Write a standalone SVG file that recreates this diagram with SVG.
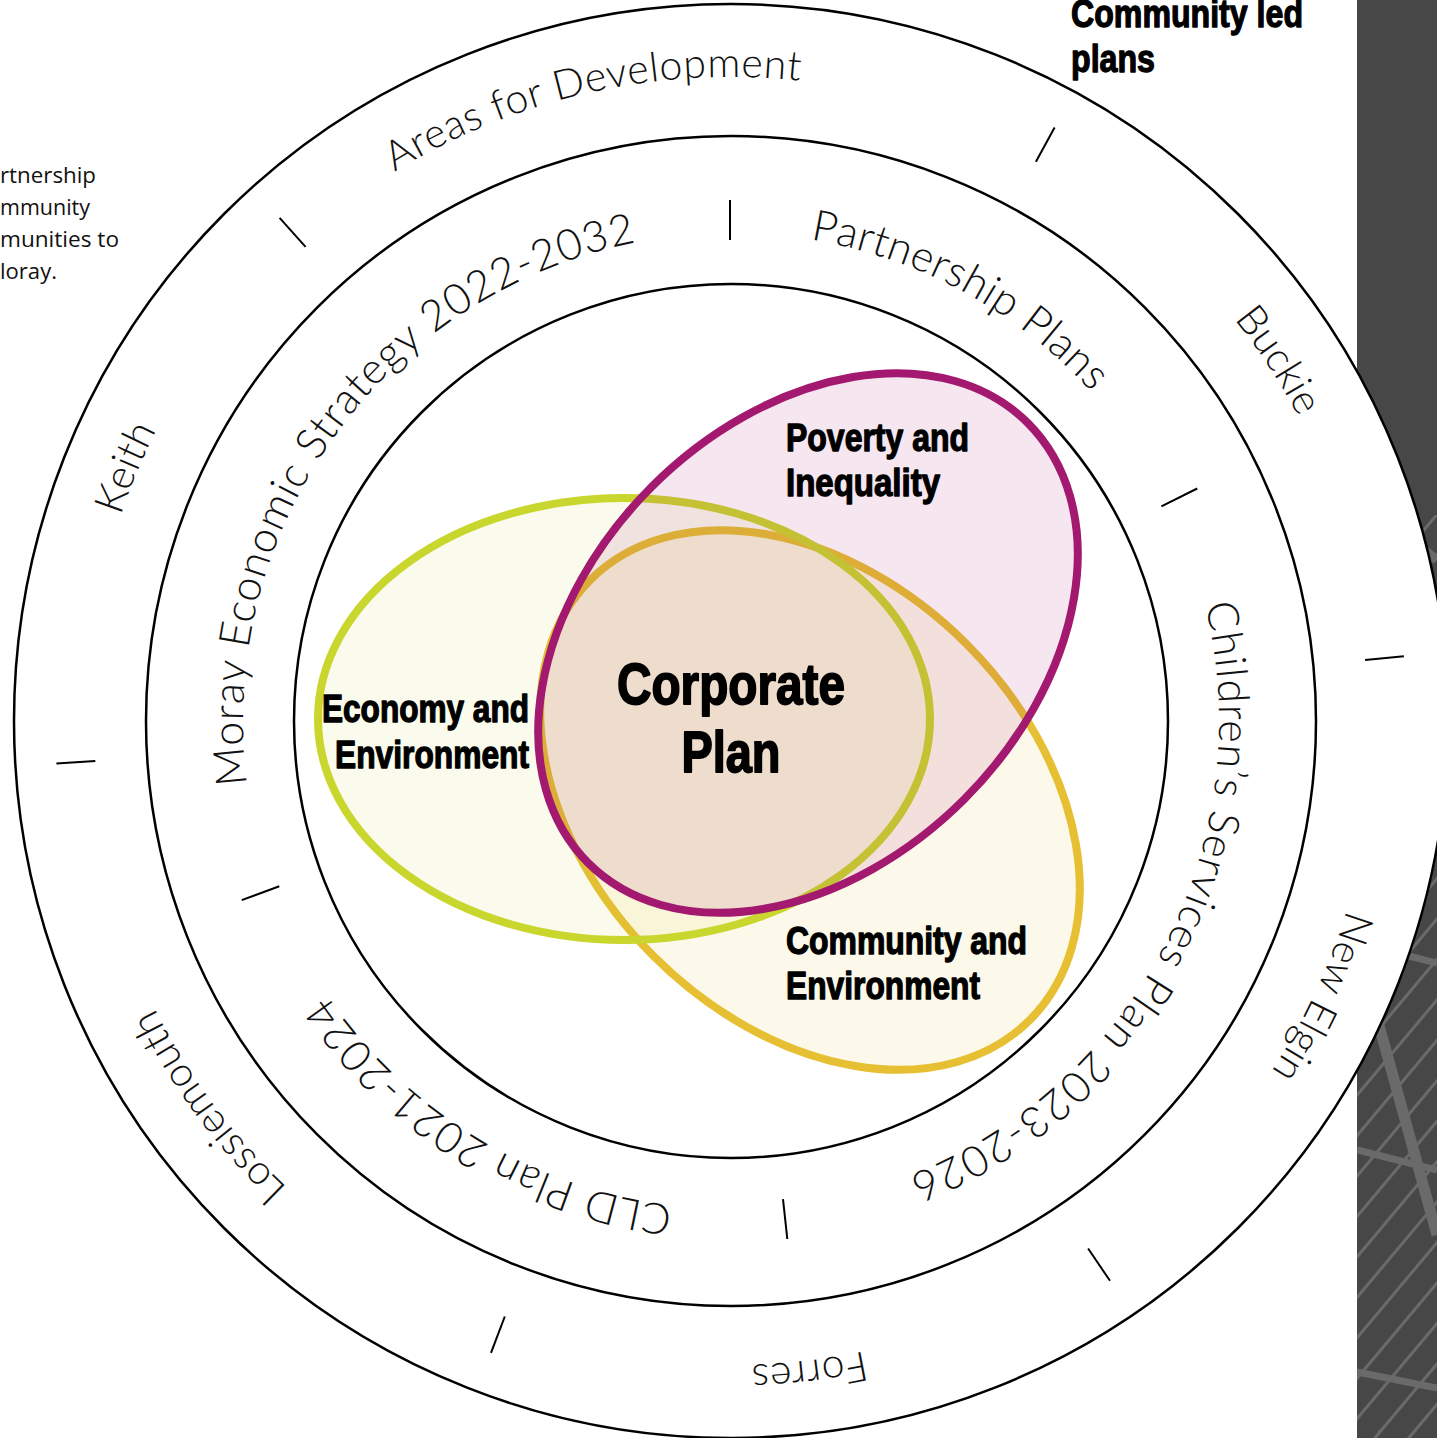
<svg xmlns="http://www.w3.org/2000/svg" width="1437" height="1438" viewBox="0 0 1437 1438">
<style>
.ring{fill:none;stroke:#000;stroke-width:2.5}
.tick{stroke:#000;stroke-width:2;fill:none}
.rt{font-family:Lato,Roboto,"Open Sans","Liberation Sans",sans-serif;font-weight:300;fill:#111}
.outer{font-size:41px}
.mid{font-size:43px}
.bold{font-family:"Liberation Sans Narrow","Liberation Sans",sans-serif;font-weight:bold;fill:#000;stroke:#000;stroke-width:1.3;stroke-linejoin:round}
.side{font-family:"Open Sans","Liberation Sans",sans-serif;font-size:22px;fill:#111}
</style>
<defs>
<path id="outerPath" d="M731,77 A644,644 0 0 1 731,1365 A644,644 0 0 1 731,77 A644,644 0 0 1 731,1365 A644,644 0 0 1 731,77"/>
<path id="midPath" d="M731,233 A488,488 0 0 1 731,1209 A488,488 0 0 1 731,233 A488,488 0 0 1 731,1209 A488,488 0 0 1 731,233"/>
<pattern id="stripes" patternUnits="userSpaceOnUse" width="20" height="26" patternTransform="rotate(-50)">
<rect x="0" y="0" width="20" height="3" fill="#6a6a6a"/>
</pattern>
<clipPath id="panelClip"><rect x="1357" y="515" width="80" height="923"/></clipPath>
</defs>

<g id="panel">
<rect x="1357" y="0" width="80" height="1438" fill="#474747"/>
<g clip-path="url(#panelClip)">
<rect x="1357" y="515" width="80" height="923" fill="url(#stripes)"/>
<line x1="1372" y1="1000" x2="1437" y2="1235" stroke="#6a6a6a" stroke-width="11"/>
<line x1="1357" y1="943" x2="1437" y2="963" stroke="#6a6a6a" stroke-width="7"/>
<line x1="1357" y1="1150" x2="1437" y2="1170" stroke="#6a6a6a" stroke-width="7"/>
<line x1="1357" y1="1372" x2="1437" y2="1388" stroke="#6a6a6a" stroke-width="7"/>
<line x1="1400" y1="530" x2="1437" y2="560" stroke="#6a6a6a" stroke-width="9"/>
</g>
</g>

<g id="rings">
<circle cx="731" cy="721" r="717" fill="#fff" stroke="#000" stroke-width="2.5"/>
<circle class="ring" cx="731" cy="721" r="585"/>
<circle class="ring" cx="731" cy="721" r="437"/>
</g>

<g id="ticks">
<line class="tick" x1="1035.9" y1="161.7" x2="1054.6" y2="127.5"/>
<line class="tick" x1="1365.1" y1="660.0" x2="1403.9" y2="656.2"/>
<line class="tick" x1="1088.1" y1="1248.5" x2="1110.0" y2="1280.8"/>
<line class="tick" x1="504.8" y1="1316.5" x2="491.0" y2="1352.9"/>
<line class="tick" x1="95.3" y1="761.0" x2="56.4" y2="763.5"/>
<line class="tick" x1="305.6" y1="246.9" x2="279.6" y2="217.9"/>
<line class="tick" x1="730" y1="240" x2="730" y2="200"/>
<line class="tick" x1="1161.4" y1="506.4" x2="1197.2" y2="488.5"/>
<line class="tick" x1="783.0" y1="1199.2" x2="787.3" y2="1239.0"/>
<line class="tick" x1="279.3" y1="886.3" x2="241.7" y2="900.1"/>
</g>

<g id="outer-labels" class="rt outer" text-anchor="middle">
<text><textPath href="#outerPath" startOffset="3903.6" textLength="423" lengthAdjust="spacing">Areas for Development</textPath></text>
<text><textPath href="#outerPath" startOffset="636.2" textLength="118" lengthAdjust="spacing">Buckie</textPath></text>
<text><textPath href="#outerPath" startOffset="1292.6" textLength="179" lengthAdjust="spacing">New Elgin</textPath></text>
<text><textPath href="#outerPath" startOffset="1945.6" textLength="114" lengthAdjust="spacing">Forres</textPath></text>
<text><textPath href="#outerPath" startOffset="2624.5" textLength="225" lengthAdjust="spacing">Lossiemouth</textPath></text>
<text><textPath href="#outerPath" startOffset="3289.9" textLength="93" lengthAdjust="spacing">Keith</textPath></text>
</g>

<g id="middle-labels" class="rt mid" text-anchor="middle">
<text><textPath href="#midPath" startOffset="2602.9" textLength="735" lengthAdjust="spacing">Moray Economic Strategy 2022-2032</textPath></text>
<text><textPath href="#midPath" startOffset="242.7" textLength="326" lengthAdjust="spacing">Partnership Plans</textPath></text>
<text><textPath href="#midPath" startOffset="999.9" textLength="702" lengthAdjust="spacing">Children’s Services Plan 2023-2026</textPath></text>
<text><textPath href="#midPath" startOffset="1799.7" textLength="417" lengthAdjust="spacing">CLD Plan 2021-2024</textPath></text>
</g>

<g id="venn">
<g id="community-environment">
<ellipse cx="810" cy="800" rx="311" ry="221" transform="rotate(45 810 800)" fill="#e8c030" fill-opacity="0.1" stroke="#e6bf32" stroke-width="8"/>
</g>
<g id="economy-environment">
<ellipse cx="624" cy="719" rx="306" ry="221" fill="#c8d62c" fill-opacity="0.09" stroke="#c9d62d" stroke-width="8"/>
</g>
<g id="poverty-inequality">
<ellipse cx="808" cy="643" rx="311" ry="221" transform="rotate(-45 808 643)" fill="#a5186f" fill-opacity="0.11" stroke="#a3196f" stroke-width="8"/>
</g>
</g>

<g id="venn-labels" class="bold">
<g id="corporate-plan" text-anchor="middle" font-size="57" stroke-width="1.8">
<text x="731" y="704" textLength="228" lengthAdjust="spacingAndGlyphs">Corporate</text>
<text x="731" y="772" textLength="99" lengthAdjust="spacingAndGlyphs">Plan</text>
</g>
<g id="economy-label" text-anchor="end" font-size="38">
<text x="529" y="722" textLength="207" lengthAdjust="spacingAndGlyphs">Economy and</text>
<text x="529" y="768" textLength="194" lengthAdjust="spacingAndGlyphs">Environment</text>
</g>
<g id="poverty-label" font-size="38">
<text x="786" y="451" textLength="183" lengthAdjust="spacingAndGlyphs">Poverty and</text>
<text x="786" y="496" textLength="154" lengthAdjust="spacingAndGlyphs">Inequality</text>
</g>
<g id="community-label" font-size="38">
<text x="786" y="954" textLength="241" lengthAdjust="spacingAndGlyphs">Community and</text>
<text x="786" y="999" textLength="194" lengthAdjust="spacingAndGlyphs">Environment</text>
</g>
<g id="community-led" font-size="39">
<text x="1071" y="27" textLength="232" lengthAdjust="spacingAndGlyphs">Community led</text>
<text x="1071" y="72" textLength="84" lengthAdjust="spacingAndGlyphs">plans</text>
</g>
</g>

<g id="side-text" class="side">
<text x="0" y="183" textLength="96" lengthAdjust="spacingAndGlyphs">rtnership</text>
<text x="0" y="215" textLength="90" lengthAdjust="spacingAndGlyphs">mmunity</text>
<text x="0" y="247" textLength="119" lengthAdjust="spacingAndGlyphs">munities to</text>
<text x="0" y="279" textLength="57" lengthAdjust="spacingAndGlyphs">loray.</text>
</g>
</svg>
